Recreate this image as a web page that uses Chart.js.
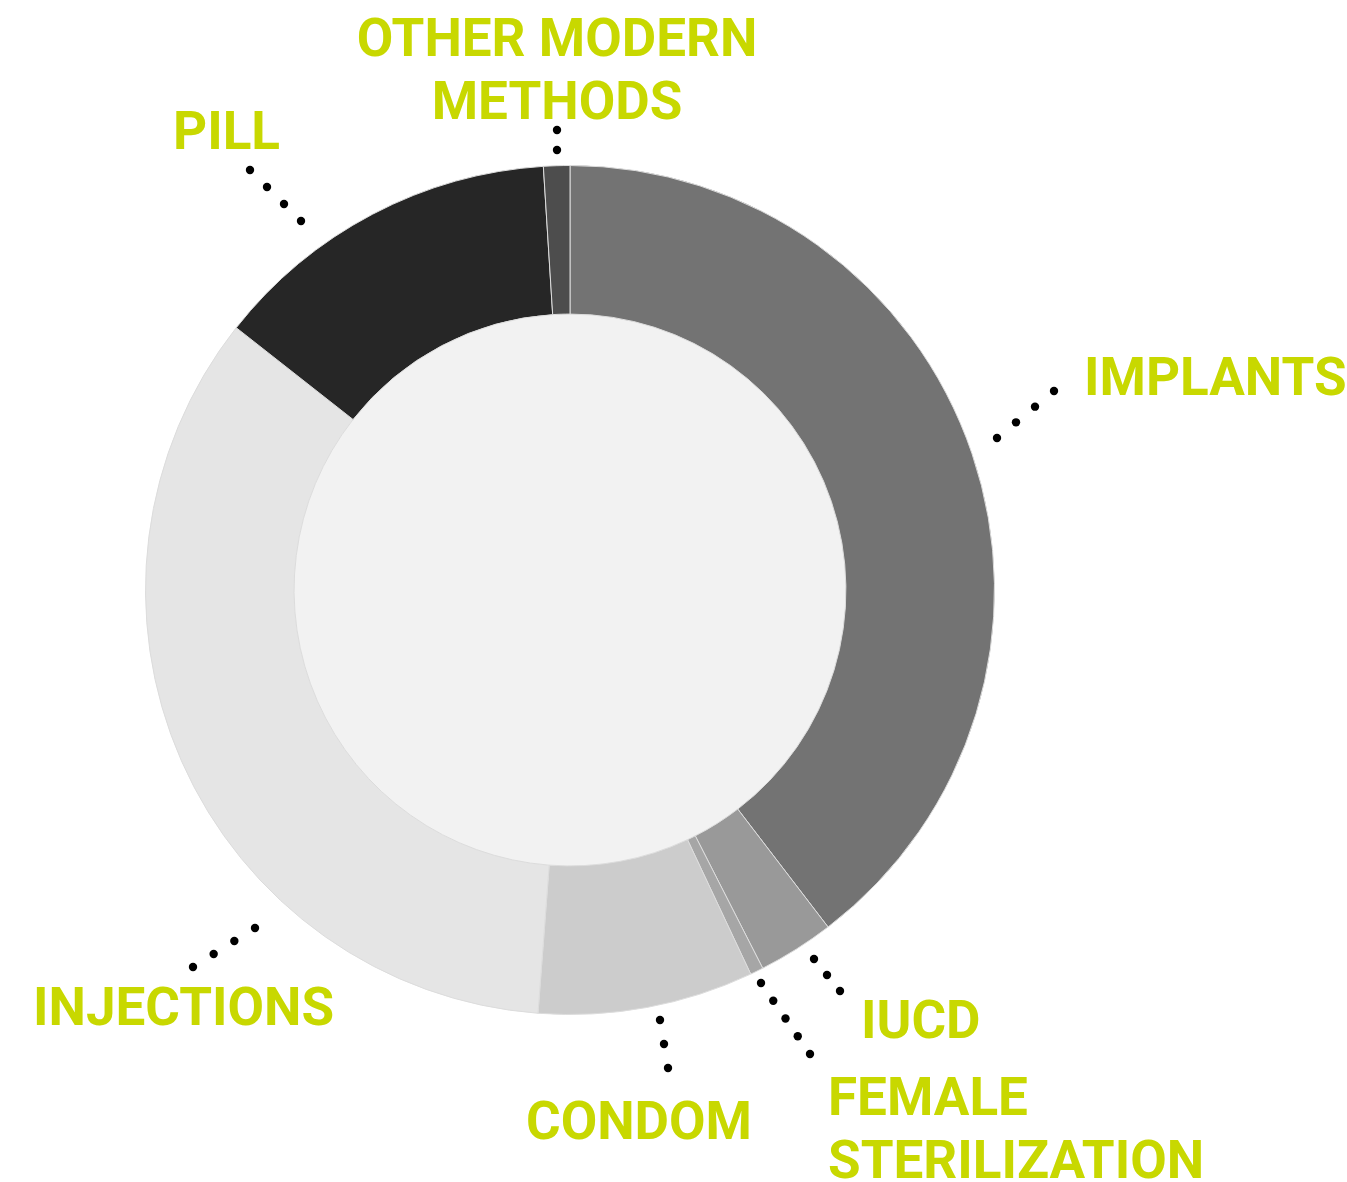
<!DOCTYPE html>
<html>
<head>
<meta charset="utf-8">
<script src="https://cdn.jsdelivr.net/npm/chart.js@4.4.1/dist/chart.umd.min.js"></script>
<style>
  html, body { margin: 0; padding: 0; background: #ffffff; }
  #wrap { width: 1347px; height: 1182px; }
</style>
</head>
<body>
<div id="wrap"><canvas id="methodsChart" width="1347" height="1182"></canvas></div>
<script>
// share of modern method users (%), clockwise from 12 o'clock
const methods = ['Implants', 'IUCD', 'Female sterilization', 'Condom', 'Injections', 'Pill', 'Other modern methods'];
const shares = [39.6, 2.9, 0.5, 8.2, 34.4, 13.4, 1.0];
const sliceColors = ['#737373', '#999999', '#a6a6a6', '#cccccc', '#e5e5e5', '#262626', '#4d4d4d'];

// label text for each slice (upper case, split in lines)
const labelLines = [
    ['IMPLANTS'],
    ['IUCD'],
    ['FEMALE', 'STERILIZATION'],
    ['CONDOM'],
    ['INJECTIONS'],
    ['PILL'],
    ['OTHER MODERN', 'METHODS']
];

// where the callouts sit, relative to the centre of the ring
const callouts = [
    { x: 514, y: -195, align: 'left',   dotFrom: [427, -152], dotTo: [484, -199], dots: 4 },
    { x: 291, y: 448,  align: 'left',   dotFrom: [244, 369],  dotTo: [270, 401],  dots: 3 },
    { x: 258, y: 525,  align: 'left',   dotFrom: [191, 393],  dotTo: [240, 464],  dots: 5 },
    { x: 69,  y: 549,  align: 'center', dotFrom: [90, 430],   dotTo: [98, 478],   dots: 3 },
    { x: -537, y: 435, align: 'left',   dotFrom: [-315, 338], dotTo: [-377, 377], dots: 4 },
    { x: -397, y: -441, align: 'left',  dotFrom: [-269, -369], dotTo: [-320, -420], dots: 4 },
    { x: -13, y: -534, align: 'center', dotFrom: [-13, -440], dotTo: [-13, -460], dots: 2 }
];

const calloutPlugin = {
    id: 'callouts',
    beforeDatasetsDraw(chart) {
        const arc = chart.getDatasetMeta(0).data[0];
        if (!arc) return;
        const ctx = chart.ctx;
        ctx.save();
        ctx.fillStyle = '#f2f2f2';
        ctx.beginPath();
        ctx.arc(arc.x, arc.y, arc.innerRadius, 0, Math.PI * 2);
        ctx.fill();
        ctx.restore();
    },
    afterDatasetsDraw(chart) {
        const arc = chart.getDatasetMeta(0).data[0];
        if (!arc) return;
        const cx = arc.x, cy = arc.y;
        const ctx = chart.ctx;
        ctx.save();
        callouts.forEach((c, i) => {
            // dotted leader
            ctx.fillStyle = '#000000';
            for (let k = 0; k < c.dots; k++) {
                const t = c.dots > 1 ? k / (c.dots - 1) : 0;
                const px = cx + c.dotFrom[0] + (c.dotTo[0] - c.dotFrom[0]) * t;
                const py = cy + c.dotFrom[1] + (c.dotTo[1] - c.dotFrom[1]) * t;
                ctx.beginPath();
                ctx.arc(px, py, 4.2, 0, Math.PI * 2);
                ctx.fill();
            }
            // label
            ctx.fillStyle = '#c8d800';
            ctx.font = 'bold 53px Roboto';
            ctx.textAlign = c.align;
            ctx.textBaseline = 'alphabetic';
            labelLines[i].forEach((line, j) => {
                ctx.fillText(line, cx + c.x, cy + c.y + j * 63);
            });
        });
        ctx.restore();
    }
};

new Chart(document.getElementById('methodsChart'), {
    type: 'doughnut',
    data: {
        labels: methods,
        datasets: [{
            data: shares,
            backgroundColor: sliceColors,
            borderColor: '#dcdcdc',
            borderWidth: 1
        }]
    },
    options: {
        responsive: false,
        animation: false,
        cutout: '65%',
        layout: { padding: { left: 145, right: 352, top: 165, bottom: 167 } },
        plugins: {
            legend: { display: false },
            tooltip: { enabled: false }
        }
    },
    plugins: [calloutPlugin]
});
</script>
</body>
</html>
